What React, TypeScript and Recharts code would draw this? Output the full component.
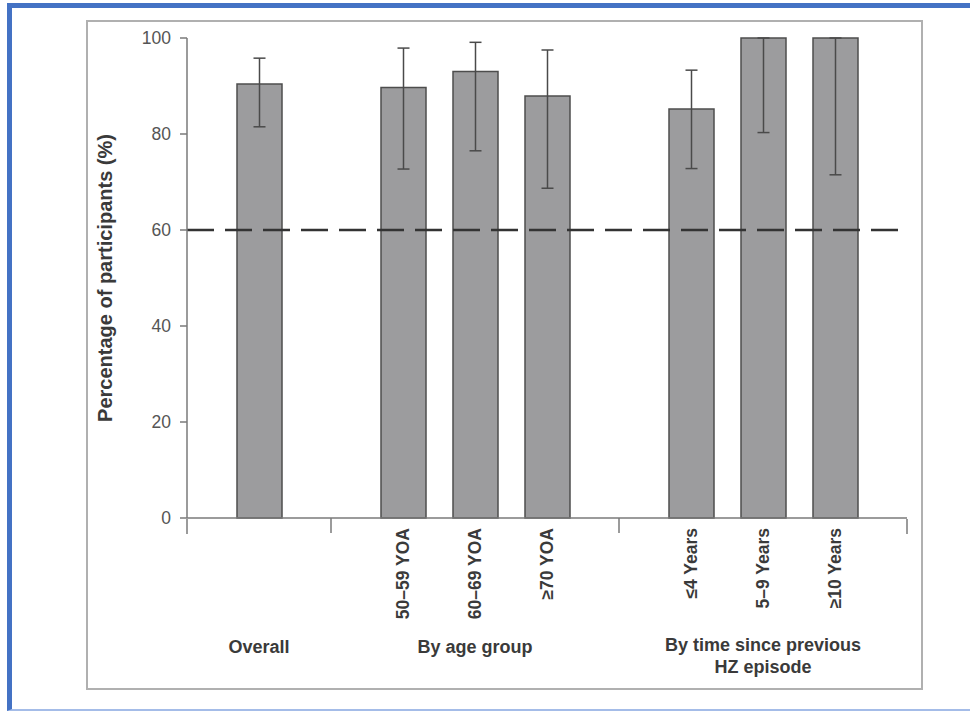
import React from 'react';
import { BarChart, Bar, XAxis, YAxis, ErrorBar, ReferenceLine, Label } from 'recharts';

// categories along the x axis; the two "gap" slots separate the groups
const categories = ['overall', 'gapAge', 'age50', 'age60', 'age70', 'gapTime', 'le4', 'y5to9', 'ge10'];
const tickLabels = ['', '', '50–59 YOA', '60–69 YOA', '≥70 YOA', '', '≤4 Years', '5–9 Years', '≥10 Years'];
const groupTitles: (string[] | null)[] = [
  ['Overall'], null, null, ['By age group'], null, null, null, ['By time since previous', 'HZ episode'], null,
];

// percentage of participants and 95% CI bounds
const percentages = [90.4, null, 89.7, 93.0, 87.9, null, 85.2, 100, 100];
const lowerCI = [81.5, null, 72.7, 76.5, 68.7, null, 72.8, 80.3, 71.5];
const upperCI = [95.8, null, 97.9, 99.1, 97.5, null, 93.3, 100, 100];

const yTicks = [0, 20, 40, 60, 80, 100];
const threshold = 60;

const data = categories.map((key, i) => {
  const v = percentages[i];
  return {
    key,
    value: v,
    err: v == null ? undefined : [v - (lowerCI[i] as number), (upperCI[i] as number) - v],
  };
});

const FONT = '"Liberation Sans", Arial, sans-serif';
const AXIS = '#7a7a7a';
const DARK = '#3a3a3a';
const lastIndex = categories.length - 1;

const CategoryTick = (props: any) => {
  const { x, y, payload } = props;
  const i = categories.indexOf(payload.value);
  const label = tickLabels[i];
  const group = groupTitles[i];
  const isGap = percentages[i] == null;
  return (
    <g>
      {isGap && <line x1={x} y1={y} x2={x} y2={y + 15} stroke={AXIS} strokeWidth={1.5} />}
      {label && (
        <text
          x={x}
          y={y + 10}
          transform={`rotate(-90, ${x}, ${y + 10})`}
          textAnchor="end"
          dominantBaseline="central"
          fontSize={17.5}
          fontWeight="bold"
          fill={DARK}
        >
          {label}
        </text>
      )}
      {group &&
        group.map((line, k) => (
          <text
            key={k}
            x={x}
            y={y + (group.length === 1 ? 129 : 127) + k * 22}
            textAnchor="middle"
            dominantBaseline="central"
            fontSize={18}
            fontWeight="bold"
            fill={DARK}
          >
            {line}
          </text>
        ))}
    </g>
  );
};

export default function App() {
  return (
    <div style={{ position: 'absolute', left: 0, top: 0, width: 970, height: 711, background: '#fff', overflow: 'hidden' }}>
      <div
        style={{
          position: 'absolute', left: 7, top: 3, width: 1000, height: 708, boxSizing: 'border-box',
          borderTop: '5px solid #4472c4', borderLeft: '5px solid #4472c4', borderBottom: '2px solid #a4bce8',
        }}
      />
      <div
        style={{
          position: 'absolute', left: 86, top: 20, width: 837, height: 670, boxSizing: 'border-box',
          border: '2px solid #b0b0b0',
        }}
      />
      <div style={{ position: 'absolute', left: 0, top: 0 }}>
        <BarChart
          width={970}
          height={711}
          data={data}
          margin={{ top: 38, right: 63, bottom: 172, left: 87 }}
          style={{ fontFamily: FONT }}
        >
          <XAxis
            dataKey="key"
            type="category"
            height={1}
            padding={{ left: 36, right: 36 }}
            axisLine={{ stroke: AXIS, strokeWidth: 1.5 }}
            tickLine={false}
            tickSize={0}
            tickMargin={0}
            interval={0}
            tick={<CategoryTick />}
          />
          {/* edge ticks at both ends of the x axis */}
          <XAxis
            xAxisId="edge"
            type="number"
            domain={[0, lastIndex]}
            ticks={[0, lastIndex]}
            allowDataOverflow
            axisLine={false}
            tickSize={15}
            tickLine={{ stroke: AXIS, strokeWidth: 1.5 }}
            tickFormatter={() => ''}
            height={20}
          />
          <YAxis
            width={100}
            domain={[0, 100]}
            ticks={yTicks}
            tickSize={7}
            tickMargin={9}
            axisLine={{ stroke: AXIS, strokeWidth: 1.5 }}
            tickLine={{ stroke: AXIS, strokeWidth: 1.5 }}
            tick={{ fontSize: 17.5, fill: '#555' }}
          >
            <Label
              content={({ viewBox }: any) => {
                const cx = viewBox.x + 18;
                const cy = viewBox.y + viewBox.height / 2;
                return (
                  <text
                    x={cx}
                    y={cy}
                    transform={`rotate(-90, ${cx}, ${cy})`}
                    textAnchor="middle"
                    dominantBaseline="central"
                    fontSize={20}
                    fontWeight="bold"
                    fill={DARK}
                  >
                    Percentage of participants (%)
                  </text>
                );
              }}
            />
          </YAxis>
          <Bar dataKey="value" fill="#9c9c9e" stroke="#4d4d4d" strokeWidth={1.5} barSize={45} isAnimationActive={false}>
            <ErrorBar dataKey="err" width={6} stroke="#4a4a4a" strokeWidth={1.5} direction="y" />
          </Bar>
          <ReferenceLine y={threshold} stroke="#333" strokeWidth={2.5} strokeDasharray="27 11" />
        </BarChart>
      </div>
    </div>
  );
}
